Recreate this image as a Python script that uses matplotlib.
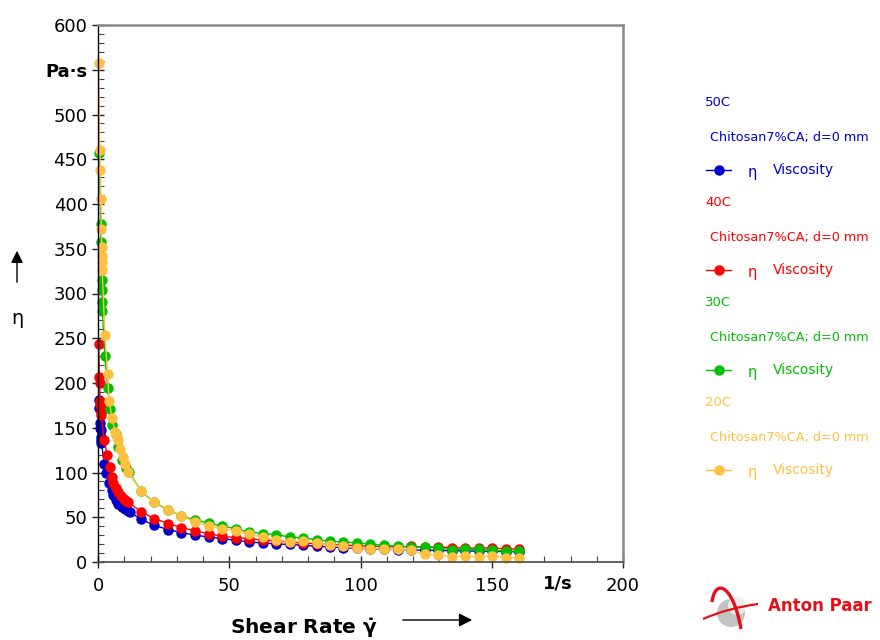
import matplotlib
matplotlib.use("Agg")
import matplotlib.pyplot as plt
from matplotlib.patches import Circle, FancyArrowPatch, PathPatch
from matplotlib.path import Path
from matplotlib.lines import Line2D
from matplotlib.ticker import MultipleLocator

plt.rcParams['font.family'] = ['DejaVu Sans']
plt.rcParams['mathtext.fontset'] = 'dejavusans'

# linear part of the shear rate ramp (1/s), shared by all four runs
ramp_rate = [16.4, 21.5, 26.7, 31.8, 37.0, 42.1, 47.3, 52.4, 57.5, 62.7,
             67.8, 73.0, 78.1, 83.3, 88.4, 93.5, 98.7, 103.8, 109.0, 114.1,
             119.3, 124.4, 129.5, 134.7, 139.8, 145.0, 150.1, 155.3, 160.4]

# 50C
low_rate_50 = [0.3, 0.5, 0.7, 0.9, 1.0, 1.1, 1.2, 1.3, 2.4, 3.1, 4.3, 5.2,
               5.9, 6.9, 7.8, 9.1, 10.3, 11.3, 12.0]
low_eta_50 = [181, 172, 155, 150, 147, 140, 136, 133, 110, 99, 88, 80,
              75, 69, 65, 61, 59, 57, 56]
ramp_eta_50 = [47.8, 41, 36.2, 32.9, 29.9, 28, 26.2, 24.3, 22.4, 21.3,
               20.2, 19.6, 18.7, 17.6, 16.8, 16, 15.3, 14.8, 14.3, 13.8,
               13.5, 13.2, 12.9, 12.6, 12.4, 12.1, 11.9, 11.6, 11.4]

# 40C
low_rate_40 = [0.3, 0.5, 0.6, 0.8, 0.9, 1.0, 1.1, 1.2, 2.4, 3.5, 4.5, 5.2,
               5.9, 6.9, 7.8, 8.6, 9.9, 10.8, 11.6]
low_eta_40 = [244, 207, 199.5, 180, 177, 173, 168, 164, 136, 119, 106, 95,
              88, 83, 78, 73.5, 70, 68, 67]
ramp_eta_40 = [56, 48.5, 43, 38.5, 34.7, 31.7, 28.7, 27.3, 26.2, 24.3,
               23.5, 22.2, 21.2, 20.3, 19.5, 18.8, 18.2, 17.7, 17.2, 16.8,
               17.5, 16.6, 16.8, 16.2, 15.4, 15.6, 15.8, 14.5, 14.6]

# 30C
low_rate_30 = [0.5, 1.0, 1.1, 1.4, 1.5, 1.6, 1.7, 2.6, 3.7, 4.6, 5.5,
               6.7, 7.7, 9.2, 10.5, 11.9]
low_eta_30 = [457, 378, 358, 315, 304, 291, 280, 230, 194, 170.5, 153,
              143, 128.6, 114.5, 105, 100.7]
ramp_eta_30 = [79, 66.5, 58, 51.5, 46.6, 43.6, 40, 37.3, 33.6, 31.7,
               30.6, 28, 26.8, 25, 23.2, 22.4, 21.3, 19.8, 18.7, 17.6,
               16.8, 16.6, 15.7, 13.9, 14.2, 14.2, 13, 12.2, 12.2]

# 20C
low_rate_20 = [0.3, 0.7, 0.8, 1.1, 1.3, 1.4, 1.5, 1.55, 1.6, 2.6, 3.7, 4.2,
               5.4, 6.5, 7.2, 7.7, 8.5, 9.5, 10.3, 11.5]
low_eta_20 = [558, 460, 438, 406, 372, 352, 342, 335, 326, 254, 210, 180,
              161, 145, 140, 136, 126, 117, 110, 101]
ramp_eta_20 = [79.4, 67, 58.6, 51.5, 44.8, 40, 37.3, 34.7, 31.5, 27.5,
               25, 22.4, 23.2, 21.3, 18.7, 17.5, 16, 15, 14.5, 14,
               13, 8.6, 8, 6, 6.5, 6, 6.5, 5, 5]

temps = ['50C', '40C', '30C', '20C']
colors = ['#0000c8', '#ff0000', '#00c000', '#ffc040']
sample = 'Chitosan7%CA; d=0 mm'

runs = [
    (low_rate_50 + ramp_rate, low_eta_50 + ramp_eta_50),
    (low_rate_40 + ramp_rate, low_eta_40 + ramp_eta_40),
    (low_rate_30 + ramp_rate, low_eta_30 + ramp_eta_30),
    (low_rate_20 + ramp_rate, low_eta_20 + ramp_eta_20),
]

fig = plt.figure(figsize=(8.8, 6.4), dpi=100)
ax = fig.add_axes([98 / 880, 1 - 562 / 640, 525 / 880, 537 / 640])

for (x, y), c in zip(runs, colors):
    ax.plot(x, y, '-o', color=c, lw=1.0, ms=6.5, mec=c, mfc=c, clip_on=False)

ax.set_xlim(0, 200)
ax.set_ylim(0, 600)

# axes frame: black left spine, grey elsewhere
ax.spines['left'].set_color('black')
ax.spines['left'].set_linewidth(1.0)
ax.spines['bottom'].set_color('#555555')
ax.spines['bottom'].set_linewidth(1.3)
for s in ['top', 'right']:
    ax.spines[s].set_color('#888888')
    ax.spines[s].set_linewidth(1.8)

ax.set_xticks([0, 50, 100, 150, 200])
ax.set_xticklabels(['0', '50', '100', '150', '200'])
ax.xaxis.set_minor_locator(MultipleLocator(10))
yt = list(range(0, 601, 50))
ylabels = [str(v) for v in yt]
ylabels[11] = 'Pa·s'
ax.set_yticks(yt)
ax.set_yticklabels(ylabels)
ax.get_yticklabels()[11].set_fontweight('bold')
ax.yaxis.set_minor_locator(MultipleLocator(10))

ax.tick_params(which='major', direction='inout', length=9, width=1.0,
               labelsize=13, pad=3, colors='#222222', labelcolor='black')
ax.tick_params(which='minor', direction='in', length=4, width=0.8,
               colors='#444444')
ax.tick_params(axis='x', which='major', pad=6)

# unit label on the x axis between 150 and 200
ax.text(175, -24, '1/s', transform=ax.transData, ha='center', va='center',
        fontsize=13, fontweight='bold', clip_on=False)

# overlay in pixel coordinates for legend, axis titles and logo
ov = fig.add_axes([0, 0, 1, 1], zorder=5)
ov.set_xlim(0, 880)
ov.set_ylim(640, 0)
ov.axis('off')
ov.patch.set_alpha(0)

for i, (t, c) in enumerate(zip(temps, colors)):
    y0 = 103 + 100 * i
    ov.text(705, y0, t, color=c, fontsize=9.5, va='center', ha='left')
    ov.text(710, y0 + 34, sample, color=c, fontsize=9.2, va='center',
            ha='left')
    ov.add_line(Line2D([706, 731], [y0 + 67, y0 + 67], color=c, lw=1.0))
    ov.plot([718.5], [y0 + 67], 'o', color=c, ms=6.5)
    ov.text(748, y0 + 70, 'η', color=c, fontsize=10.5, va='center',
            ha='left')
    ov.text(773, y0 + 67, 'Viscosity', color=c, fontsize=10, va='center',
            ha='left')

# y axis title with arrow
ov.text(17, 318, 'η', fontsize=14, ha='center', va='center')
ov.add_patch(FancyArrowPatch((17, 285), (17, 248), arrowstyle='-|>',
                             mutation_scale=18, color='black', lw=1.0))

# x axis title with arrow
ov.text(230, 634, r'Shear Rate $\mathbf{\dot{\gamma}}$', fontsize=14.5,
        fontweight='bold', ha='left', va='baseline')
ov.add_patch(FancyArrowPatch((400, 620), (475, 620), arrowstyle='-|>',
                             mutation_scale=20, color='black', lw=1.0))

# company logo: grey globe with red orbit swooshes
red = '#e3101c'
ov.add_patch(Circle((731, 613), 14, facecolor='#c4c4c4', edgecolor='none'))
ov.add_patch(Circle((737, 606), 9, facecolor='#ececec', edgecolor='none'))
swoosh = Path([(712, 602), (715, 578), (733, 584), (741, 629)],
              [Path.MOVETO, Path.CURVE4, Path.CURVE4, Path.CURVE4])
ov.add_patch(PathPatch(swoosh, facecolor='none', edgecolor=red, lw=2.4))
orbit = Path([(703, 619), (728, 608), (758, 604)],
             [Path.MOVETO, Path.CURVE3, Path.CURVE3])
ov.add_patch(PathPatch(orbit, facecolor='none', edgecolor=red, lw=1.6))
ov.text(768, 606, 'Anton Paar', color=red, fontsize=12,
        fontweight='bold', ha='left', va='center')

fig.savefig('out.png', dpi=100)
